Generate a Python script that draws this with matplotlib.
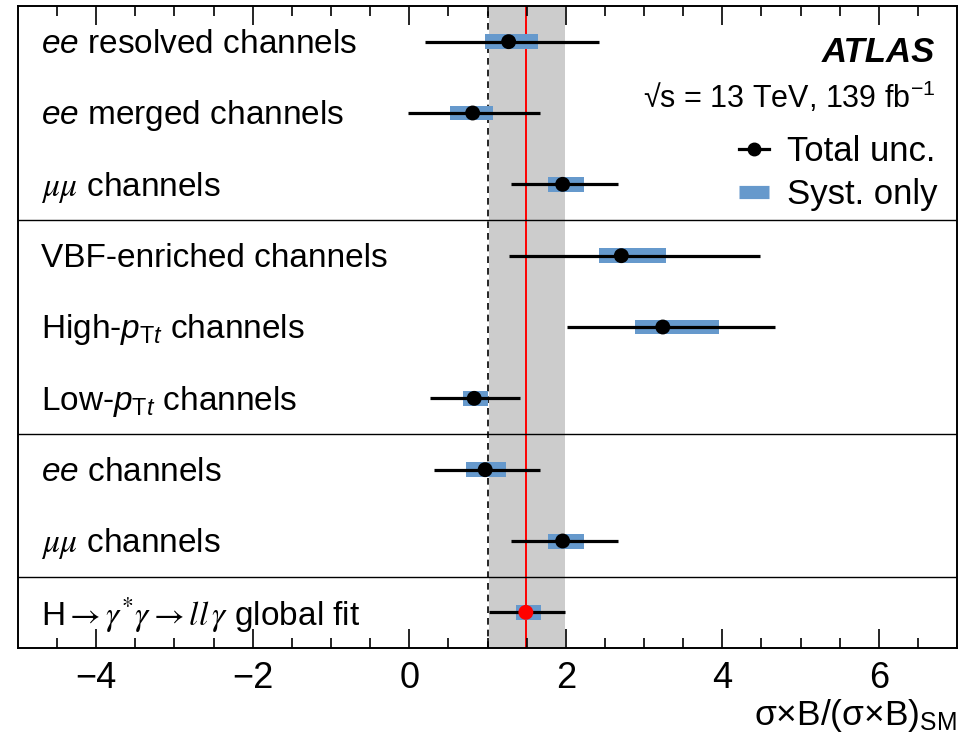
import matplotlib
matplotlib.use('Agg')
import matplotlib.pyplot as plt
from matplotlib.lines import Line2D
import numpy as np

plt.rcParams['font.family'] = ['Liberation Sans', 'DejaVu Sans']
plt.rcParams['mathtext.fontset'] = 'custom'
plt.rcParams['mathtext.rm'] = 'Liberation Sans'
plt.rcParams['mathtext.it'] = 'Liberation Sans:italic'
plt.rcParams['mathtext.bf'] = 'Liberation Sans:bold'

# Data (top to bottom)
labels = [r'$ee$ resolved channels', r'$ee$ merged channels', r'$\mu\mu$ channels',
          'VBF-enriched channels', r'High-$p_{\mathrm{T}t}$ channels', r'Low-$p_{\mathrm{T}t}$ channels',
          r'$ee$ channels', r'$\mu\mu$ channels',
          r'H$\rightarrow\gamma^{*}\gamma\rightarrow ll\,\gamma$ global fit']
mu = [1.27, 0.81, 1.96, 2.71, 3.24, 0.83, 0.97, 1.96, 1.49]
tot_lo = [0.20, -0.02, 1.30, 1.27, 2.02, 0.27, 0.31, 1.30, 1.02]
tot_hi = [2.42, 1.67, 2.67, 4.48, 4.68, 1.41, 1.67, 2.67, 1.99]
syst_lo = [0.97, 0.52, 1.77, 2.42, 2.89, 0.69, 0.73, 1.77, 1.36]
syst_hi = [1.65, 1.07, 2.23, 3.28, 3.96, 1.01, 1.23, 2.23, 1.68]
serif_math = [False, False, True, False, False, False, False, True, True]
separators = [3, 6, 8]

n = len(labels)
ypos = n - 0.5 - np.arange(n)

fig = plt.figure(figsize=(9.67, 7.40), dpi=100)
ax = fig.add_axes([0.0186, 0.1243, 0.9711, 0.8676])

blue = '#6699cc'
ax.axvspan(tot_lo[-1], tot_hi[-1], color='#cccccc', zorder=0, lw=0)
ax.axvline(1.0, color='black', ls=(0, (4, 3)), lw=1.2, zorder=1)
ax.axvline(mu[-1], color='red', lw=1.4, zorder=1)
for s in separators:
    ax.axhline(n - s, color='black', lw=1.0, zorder=1)

ax.barh(ypos, np.array(syst_hi) - np.array(syst_lo), left=syst_lo, height=0.21,
        color=blue, lw=0, zorder=2)
ax.hlines(ypos, tot_lo, tot_hi, color='black', lw=2.3, zorder=3)
colors = ['black'] * (n - 1) + ['red']
ax.scatter(mu, ypos, s=115, c=colors, zorder=4, lw=0)

for y, lab, sm in zip(ypos, labels, serif_math):
    kw = {'math_fontfamily': 'stix'} if sm else {}
    ax.text(-4.7, y - 0.04, lab, fontsize=24, va='center', ha='left', **kw)

ax.set_xlim(-5, 7)
ax.set_ylim(0, n)
ax.set_yticks([])
ax.set_xticks(np.arange(-4, 7, 2))
ax.set_xticks(np.arange(-4.5, 7, 0.5), minor=True)
ax.tick_params(axis='x', which='both', direction='in', top=True, labelsize=26, pad=9)
ax.tick_params(axis='x', which='major', length=14, width=1.2)
ax.tick_params(axis='x', which='minor', length=7, width=1.2)
for sp in ax.spines.values():
    sp.set_linewidth(1.4)

ax.set_xlabel(r'σ×B/(σ×B)$_{\mathrm{SM}}$', fontsize=25.5, loc='right', labelpad=1)

ax.text(0.977, 0.928, 'ATLAS', transform=ax.transAxes, fontsize=25, fontweight='bold',
        fontstyle='italic', ha='right', va='center')
ax.text(0.977, 0.857, r'√s = 13 TeV, 139 fb$^{-1}$', transform=ax.transAxes,
        fontsize=22, ha='right', va='center')

handles = [Line2D([0], [0], color='black', lw=2.3, marker='o', markersize=9),
           Line2D([0], [0], color=blue, lw=9.5, solid_capstyle='butt')]
ax.legend(handles, ['Total unc.', 'Syst. only'], loc='upper right',
          bbox_to_anchor=(0.998, 0.826), frameon=False, fontsize=25,
          handlelength=0.86, handletextpad=0.52, labelspacing=0.3, borderpad=0)

fig.savefig('out.png', dpi=100)
